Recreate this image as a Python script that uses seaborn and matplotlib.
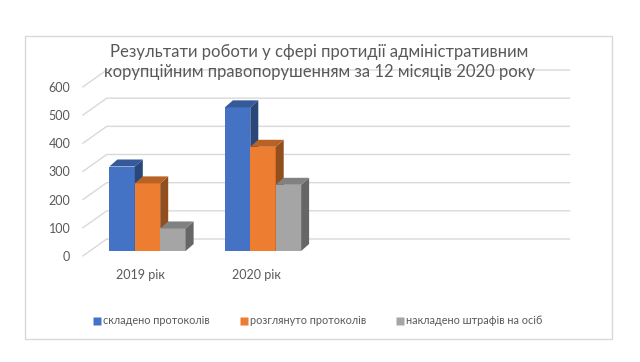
import matplotlib
matplotlib.use("Agg")
import matplotlib.pyplot as plt
from matplotlib.patches import Polygon, Rectangle
from matplotlib.lines import Line2D
from matplotlib.transforms import ScaledTranslation
import matplotlib.colors as mcolors
import seaborn as sns
import pandas as pd

years = ["2019 рік", "2020 рік"]
series = ["складено протоколів", "розглянуто протоколів", "накладено штрафів на осіб"]
compiled = [300, 510]
reviewed = [240, 370]
fined = [80, 235]
colors = ["#4472C4", "#ED7D31", "#A5A5A5"]
yticks = [0, 100, 200, 300, 400, 500, 600]

rows = []
for name, vals in zip(series, [compiled, reviewed, fined]):
    for y, v in zip(years, vals):
        rows.append({"year": y, "series": name, "value": v})
df = pd.DataFrame(rows)

sns.set_style("white")
plt.rcParams['font.family'] = ['Lato', 'DejaVu Sans']
text_col = "#595959"
grid_col = "#D9D9D9"

fig = plt.figure(figsize=(6.4, 3.62), dpi=100)
W, H = 640, 362
# front plot box in pixels
x0, x1 = 89.75, 551.75
y0, y1 = 251, 82
ax = fig.add_axes([x0 / W, 1 - y0 / H, (x1 - x0) / W, (y0 - y1) / H])

sns.barplot(data=df, x="year", y="value", hue="series", order=years,
            hue_order=series, palette=colors, saturation=1, width=0.66,
            legend=False, ax=ax)
ax.set_xlim(-0.5, 3.5)
ax.set_ylim(0, 600)

ux = 4 / (x1 - x0)          # data units per pixel
uy = 600 / (y0 - y1)

# back-wall gridlines
for v in yticks:
    xs = [-0.5 - 7 * ux, -0.5 + 17 * ux, 3.5 + 18 * ux]
    ys = [v - 5 * uy, v + 12 * uy, v + 12 * uy]
    ax.plot(xs, ys, color=grid_col, lw=1, zorder=0.5, clip_on=False)

# fake 3d faces on each bar
dx, dy = 8 * ux, 7 * uy
bars = sorted(ax.patches, key=lambda p: p.get_x())
for i, p in enumerate(bars):
    x, w, h = p.get_x(), p.get_width(), p.get_height()
    rgb = mcolors.to_rgb(p.get_facecolor())
    side = tuple(c * 0.62 for c in rgb)
    top = tuple(c * 0.78 for c in rgb)
    z = 2 + i * 3
    p.set_zorder(z)
    p.set_edgecolor("none")
    ax.add_patch(Polygon([(x + w, 0), (x + w, h), (x + w + dx, h + dy), (x + w + dx, dy)],
                         closed=True, facecolor=side, edgecolor="none", zorder=z + 1))
    ax.add_patch(Polygon([(x, h), (x + w, h), (x + w + dx, h + dy), (x + dx, h + dy)],
                         closed=True, facecolor=top, edgecolor="none", zorder=z + 2))

for s in ax.spines.values():
    s.set_visible(False)
ax.set_xlabel("")
ax.set_ylabel("")
ax.set_yticks(yticks)
ax.set_xticks([0, 1])
ax.set_xticklabels(years)
ax.tick_params(axis="y", length=0, pad=14, labelsize=9, labelcolor=text_col)
ax.tick_params(axis="x", length=0, pad=13, labelsize=9, labelcolor=text_col)
for lab in ax.get_yticklabels():
    lab.set_transform(lab.get_transform() + ScaledTranslation(0, -0.05, fig.dpi_scale_trans))
for lab in ax.get_xticklabels():
    lab.set_transform(lab.get_transform() + ScaledTranslation(-0.07, 0, fig.dpi_scale_trans))

fig.text(319 / W, 1 - 62 / H,
         "Результати роботи у сфері протидії адміністративним\n"
         "корупційним правопорушенням за 12 місяців 2020 року",
         ha="center", va="center", fontsize=12, color=text_col, linespacing=1.3)

handles = [Line2D([], [], marker="s", linestyle="none", markersize=6,
                  markerfacecolor=c, markeredgecolor="none") for c in colors]
fig.legend(handles, series, loc="center", bbox_to_anchor=(317 / W, 1 - 321 / H),
           ncol=3, frameon=False, fontsize=7.8, labelcolor=text_col,
           handletextpad=0.1, columnspacing=2.6, handlelength=1)

fig.patches.append(Rectangle((25 / W, 1 - 339 / H), 587 / W, 303 / H,
                             transform=fig.transFigure, fill=False,
                             edgecolor=grid_col, lw=1))

fig.savefig("out.png", dpi=100)
